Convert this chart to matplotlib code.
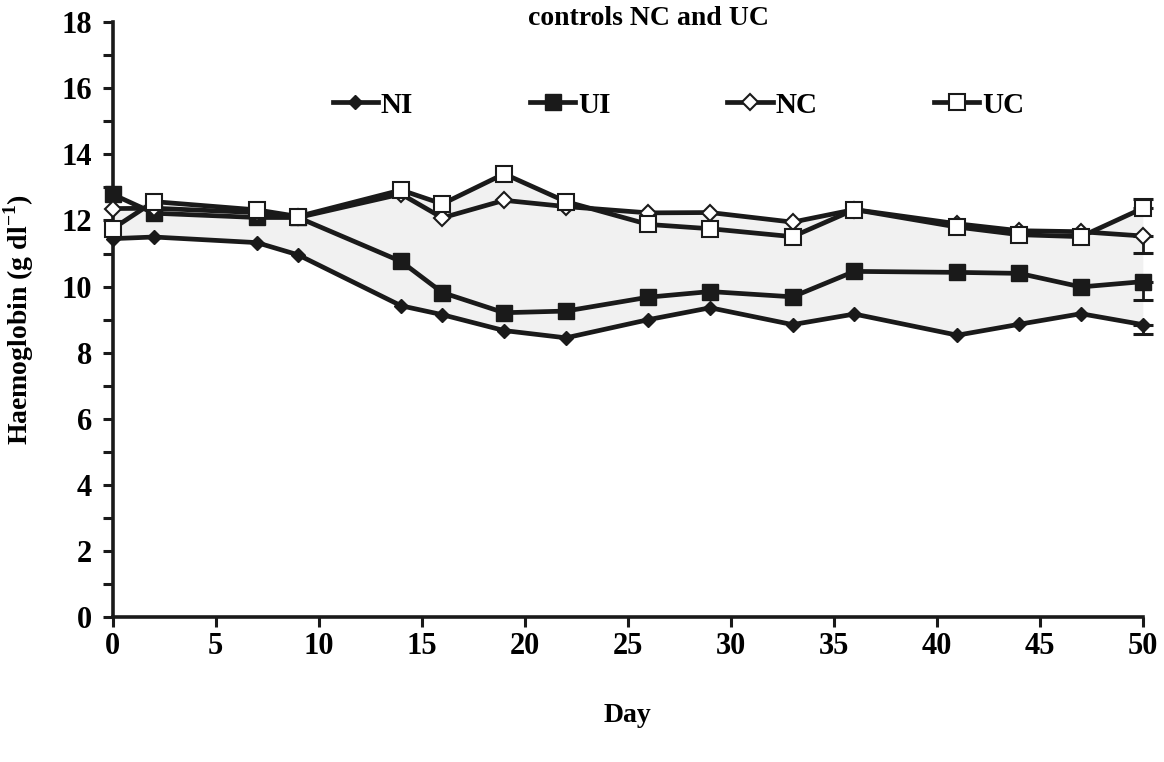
import matplotlib
matplotlib.use("Agg")
import matplotlib.pyplot as plt
import numpy as np

# ---- data ----
days = [0, 2, 7, 9, 14, 16, 19, 22, 26, 29, 33, 36, 41, 44, 47, 50]
NI = [11.45, 11.5, 11.33, 10.96, 9.42, 9.15, 8.67, 8.45, 9.0, 9.36, 8.85, 9.17, 8.53, 8.86, 9.18, 8.85]
UI = [12.79, 12.22, 12.09, 12.09, 10.76, 9.82, 9.21, 9.26, 9.68, 9.85, 9.69, 10.46, 10.43, 10.40, 9.99, 10.15]
NC = [12.36, 12.37, 12.24, 12.09, 12.80, 12.08, 12.61, 12.42, 12.23, 12.24, 11.95, 12.33, 11.90, 11.69, 11.66, 11.53]
UC = [11.75, 12.57, 12.32, 12.12, 12.92, 12.50, 13.41, 12.57, 11.88, 11.75, 11.51, 12.33, 11.80, 11.57, 11.51, 12.37]
# error bars on final day (lower, upper)
err_NI = (0.28, 0.0)
err_UI = (0.55, 0.0)
err_NC = (0.50, 0.0)
err_UC = (0.0, 0.27)

series_names = ["NI", "UI", "NC", "UC"]
x_ticks = [0, 5, 10, 15, 20, 25, 30, 35, 40, 45, 50]
y_ticks = [0, 2, 4, 6, 8, 10, 12, 14, 16, 18]
title_text = "controls NC and UC"
x_label = "Day"
y_label = "Haemoglobin (g dl$^{\\mathbf{-1}}$)"

plt.rcParams['font.family'] = ['Liberation Serif', 'DejaVu Serif']
plt.rcParams['mathtext.fontset'] = 'custom'
plt.rcParams['mathtext.rm'] = 'Liberation Serif:bold'
plt.rcParams['mathtext.bf'] = 'Liberation Serif:bold'

fig = plt.figure(figsize=(11.64, 7.62), dpi=100)
ax = fig.add_axes([0.0968, 0.190, 0.885, 0.781])

ink = '#1a1a1a'
ax.fill_between(days, NI, np.maximum(NC, UC), color='#f1f1f1', lw=0, zorder=1)

styles = {
    "NI": dict(marker='D', ms=7, mfc=ink, mec=ink),
    "UI": dict(marker='s', ms=11, mfc=ink, mec=ink),
    "NC": dict(marker='D', ms=8, mfc='white', mec=ink, mew=1.5),
    "UC": dict(marker='s', ms=12, mfc='white', mec=ink, mew=1.5),
}
data = {"NI": NI, "UI": UI, "NC": NC, "UC": UC}
errs = {"NI": err_NI, "UI": err_UI, "NC": err_NC, "UC": err_UC}
handles = []
for i, name in enumerate(series_names):
    vals = data[name]
    h, = ax.plot(days, vals, color=ink, lw=3.4, clip_on=False, zorder=3 + i,
                 label=name, **styles[name])
    lo, hi = errs[name]
    ax.errorbar([days[-1]], [vals[-1]], yerr=[[lo], [hi]], fmt='none',
                ecolor=ink, elinewidth=2, capsize=7, capthick=2.2,
                zorder=2 + i, clip_on=False)
    handles.append(h)

ax.set_xlim(0, 50)
ax.set_ylim(0, 18)
ax.set_xticks(x_ticks)
ax.set_yticks(y_ticks)
ax.set_yticks(np.arange(0, 19, 1), minor=True)
for s in ['top', 'right']:
    ax.spines[s].set_visible(False)
for s in ['left', 'bottom']:
    ax.spines[s].set_linewidth(2.6)
    ax.spines[s].set_color(ink)
ax.tick_params(axis='both', which='both', direction='out', length=7, width=2.2, color=ink)
ax.tick_params(axis='y', which='major', pad=8)
ax.tick_params(axis='x', which='major', pad=4)
for lab in ax.get_xticklabels() + ax.get_yticklabels():
    lab.set_fontsize(22)
    lab.set_fontweight('bold')

ax.set_xlabel(x_label, fontsize=20, fontweight='bold', labelpad=30)
ax.set_ylabel(y_label, fontsize=20, fontweight='bold', labelpad=18)

fig.text(0.557, 0.976, title_text, ha='center', va='center', fontsize=20, fontweight='bold')

leg = fig.legend(handles=handles, labels=series_names, loc='center',
                 bbox_to_anchor=(0.583, 0.862), ncol=4, frameon=False,
                 handlelength=1.55, handletextpad=0.1,
                 columnspacing=4.0, prop={'weight': 'bold', 'size': 21})

fig.savefig("out.png", dpi=100)
